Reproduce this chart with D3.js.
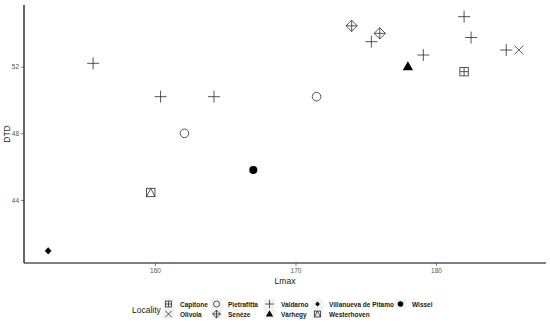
<!DOCTYPE html>
<html>
<head>
<meta charset="utf-8">
<script src="https://cdn.jsdelivr.net/npm/d3@7"></script>
<style>
  body { margin: 0; background: #fff; }
  text { font-family: "Liberation Sans", Arial, sans-serif; }
</style>
</head>
<body>
<svg width="550" height="326"></svg>
<script>
  //Localities and the shape used for each one
  const localities = ['Capitone', 'Olivola', 'Pietrafitta', 'Senèze', 'Valdarno', 'Vàrhegy', 'Villanueva de Pitamo', 'Westerhoven', 'Wissel'];
  const shapes = ['squarePlus', 'cross', 'openCircle', 'diamondPlus', 'plus', 'triangle', 'diamond', 'squareTriangle', 'dot'];

  //One entry per specimen
  const pointLocality = ['Capitone', 'Olivola', 'Pietrafitta', 'Pietrafitta', 'Senèze', 'Senèze',
    'Valdarno', 'Valdarno', 'Valdarno', 'Valdarno', 'Valdarno', 'Valdarno', 'Valdarno', 'Valdarno',
    'Vàrhegy', 'Villanueva de Pitamo', 'Westerhoven', 'Wissel'];
  const lmax = [182.0, 185.9, 162.1, 171.5, 174.0, 176.0,
    155.6, 160.4, 164.2, 175.4, 179.1, 182.0, 182.5, 185.0,
    178.0, 152.4, 159.7, 167.0];
  const dtd = [51.7, 53.0, 48.0, 50.2, 54.45, 54.0,
    52.2, 50.2, 50.2, 53.5, 52.7, 55.0, 53.75, 53.0,
    52.0, 40.95, 44.45, 45.8];

  //Axis ticks
  const xTicks = [160, 170, 180];
  const yTicks = [44, 48, 52];

  const svg = d3.select('svg');
  const panel = { left: 24, right: 546, top: 5, bottom: 263 };

  const x = d3.scaleLinear().domain([150.68, 187.83]).range([panel.left, panel.right]);
  const y = d3.scaleLinear().domain([40.22, 55.70]).range([panel.bottom, panel.top]);
  const shapeOf = d3.scaleOrdinal().domain(localities).range(shapes);

  //Draws one ggplot-like point shape into group g, scaled by k
  function drawShape(g, shape, k) {
    const ink = '#2b2b2b';
    const line = (x1, y1, x2, y2) => g.append('line')
      .attr('x1', x1 * k).attr('y1', y1 * k).attr('x2', x2 * k).attr('y2', y2 * k)
      .attr('stroke', ink).attr('stroke-width', 0.8);
    if (shape === 'squarePlus') {
      g.append('rect').attr('x', -4.2 * k).attr('y', -4.2 * k).attr('width', 8.4 * k).attr('height', 8.4 * k)
        .attr('fill', 'none').attr('stroke', ink).attr('stroke-width', 0.8);
      line(-4.2, 0, 4.2, 0); line(0, -4.2, 0, 4.2);
    } else if (shape === 'cross') {
      line(-4.5, -4.5, 4.5, 4.5); line(-4.5, 4.5, 4.5, -4.5);
    } else if (shape === 'openCircle') {
      g.append('circle').attr('r', 4.3 * k).attr('fill', 'none').attr('stroke', ink).attr('stroke-width', 0.8);
    } else if (shape === 'diamondPlus') {
      g.append('path').attr('d', `M0,${-5.6 * k}L${5.6 * k},0L0,${5.6 * k}L${-5.6 * k},0Z`)
        .attr('fill', 'none').attr('stroke', ink).attr('stroke-width', 0.8);
      line(-5.6, 0, 5.6, 0); line(0, -5.6, 0, 5.6);
    } else if (shape === 'plus') {
      line(-6, 0, 6, 0); line(0, -6, 0, 6);
    } else if (shape === 'triangle') {
      g.append('path').attr('d', `M0,${-5.5 * k}L${5.2 * k},${3.5 * k}L${-5.2 * k},${3.5 * k}Z`).attr('fill', '#000');
    } else if (shape === 'diamond') {
      g.append('path').attr('d', `M0,${-3.6 * k}L${3.3 * k},0L0,${3.6 * k}L${-3.3 * k},0Z`).attr('fill', '#000');
    } else if (shape === 'squareTriangle') {
      g.append('rect').attr('x', -4.2 * k).attr('y', -4.2 * k).attr('width', 8.4 * k).attr('height', 8.4 * k)
        .attr('fill', 'none').attr('stroke', ink).attr('stroke-width', 0.8);
      g.append('path').attr('d', `M${-4.2 * k},${4.2 * k}L0,${-4.2 * k}L${4.2 * k},${4.2 * k}`)
        .attr('fill', 'none').attr('stroke', ink).attr('stroke-width', 0.8);
    } else if (shape === 'dot') {
      g.append('circle').attr('r', 4 * k).attr('fill', '#000');
    }
  }

  //Axes
  const xAxis = svg.append('g')
    .attr('transform', `translate(0,${panel.bottom})`)
    .call(d3.axisBottom(x).tickValues(xTicks).tickSize(3).tickPadding(2));
  const yAxis = svg.append('g')
    .attr('transform', `translate(${panel.left},0)`)
    .call(d3.axisLeft(y).tickValues(yTicks).tickSize(3).tickPadding(2));

  [xAxis, yAxis].forEach(a => {
    a.select('.domain').attr('stroke', '#000').attr('stroke-width', 1.2);
    a.selectAll('.tick line').attr('stroke', '#333').attr('stroke-width', 0.6);
    a.selectAll('.tick text').attr('fill', '#555').style('font-size', '6.5px');
  });
  xAxis.select('.domain').attr('d', `M${panel.left},0H${panel.right}`);
  yAxis.select('.domain').attr('d', `M0,${panel.bottom}V${panel.top}`);

  //Axis titles
  svg.append('text')
    .attr('x', (panel.left + panel.right) / 2).attr('y', 284)
    .attr('text-anchor', 'middle').attr('fill', '#222').style('font-size', '8.5px')
    .text('Lmax');
  svg.append('text')
    .attr('transform', `translate(10,${(panel.top + panel.bottom) / 2}) rotate(-90)`)
    .attr('text-anchor', 'middle').attr('fill', '#222').style('font-size', '8.5px')
    .text('DTD');

  //Points
  const points = pointLocality.map((loc, i) => ({ loc, lmax: lmax[i], dtd: dtd[i] }));
  svg.append('g').selectAll('g')
    .data(points)
    .enter().append('g')
    .attr('transform', d => `translate(${x(d.lmax)},${y(d.dtd)})`)
    .each(function (d) { drawShape(d3.select(this), shapeOf(d.loc), 1); });

  //Legend: two rows, filled column by column
  const legendCols = [163, 211, 264, 312, 395];
  const legendRows = [299, 309];
  const legend = svg.append('g');
  legend.append('text')
    .attr('x', 132).attr('y', 313).attr('fill', '#222').style('font-size', '8.5px')
    .text('Locality');

  localities.forEach((loc, i) => {
    const col = Math.floor(i / 2), row = i % 2;
    const gx = legendCols[col], gy = legendRows[row];
    legend.append('rect')
      .attr('x', gx).attr('y', gy).attr('width', 11).attr('height', 10)
      .attr('fill', '#f2f2f2');
    const key = legend.append('g').attr('transform', `translate(${gx + 5.5},${gy + 5})`);
    drawShape(key, shapeOf(loc), 0.7);
    legend.append('text')
      .attr('x', gx + 17).attr('y', gy + 7.5)
      .attr('fill', '#1a1a1a').style('font-size', '6.5px').style('font-weight', 'bold')
      .text(loc);
  });
</script>
</body>
</html>
